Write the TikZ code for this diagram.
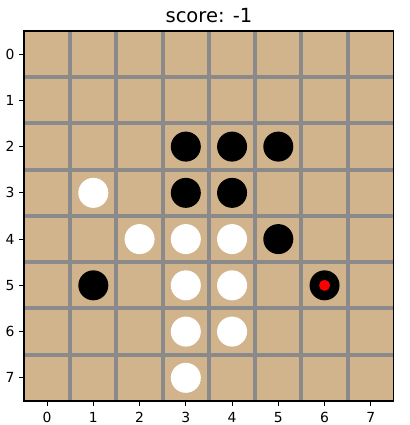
\documentclass[tikz,border=0pt]{standalone}
\usepackage{fontspec}
\setmainfont{DejaVu Sans}
\definecolor{boardtan}{HTML}{D2B48C}
\definecolor{gridgrey}{HTML}{8A8A8A}
\definecolor{markred}{HTML}{FF0000}
\newcommand{\tickfont}{\fontsize{13.9pt}{16pt}\selectfont}
\newcommand{\titlefont}{\fontsize{19.5pt}{23pt}\selectfont}
\tikzset{
  gridline/.style={draw=gridgrey, line width=4pt},
  spine/.style={draw=black, line width=1.1pt},
  ticklabel/.style={font=\tickfont, inner sep=0pt},
  blackstone/.style={circle, fill=black, minimum size=30pt, inner sep=0pt},
  whitestone/.style={circle, fill=white, minimum size=30pt, inner sep=0pt},
  lastmove/.style={circle, fill=markred, minimum size=11pt, inner sep=0pt},
}
\begin{document}
\begin{tikzpicture}[x=46.25pt, y=-46.25pt]
  \useasboundingbox (-1.018,-1.170) rectangle (7.846,8.020);
  % the board
  \fill[boardtan] (-0.5,-0.5) rectangle (7.5,7.5);
  \foreach \k in {0.5,1.5,...,6.5} {
    \draw[gridline] (\k,-0.5) -- (\k,7.5);
    \draw[gridline] (-0.5,\k) -- (7.5,\k);
  }
  \draw[spine] (-0.5,-0.5) rectangle (7.5,7.5);
  % ticks
  \foreach \k in {0,...,7} {
    \draw[spine] (\k,7.5) -- ++(0,-4.9pt) node[below=6pt, ticklabel] (xt\k) {\k};
    \draw[spine] (-0.5,\k) -- ++(-4.9pt,0) node[left=4pt, ticklabel] (yt\k) {\k};
  }
  % title
  \node[anchor=base, inner sep=0pt] (title) at (3.5,-0.694) {\titlefont score: -1};
  % stones
  \foreach \c/\r in {3/2,4/2,5/2,3/3,4/3,5/4,1/5,6/5}
    \node[blackstone] (b\c\r) at (\c,\r) {};
  \foreach \c/\r in {1/3,2/4,3/4,4/4,3/5,4/5,3/6,4/6,3/7}
    \node[whitestone] (w\c\r) at (\c,\r) {};
  \node[lastmove] (last) at (b65) {};
\end{tikzpicture}
\end{document}
